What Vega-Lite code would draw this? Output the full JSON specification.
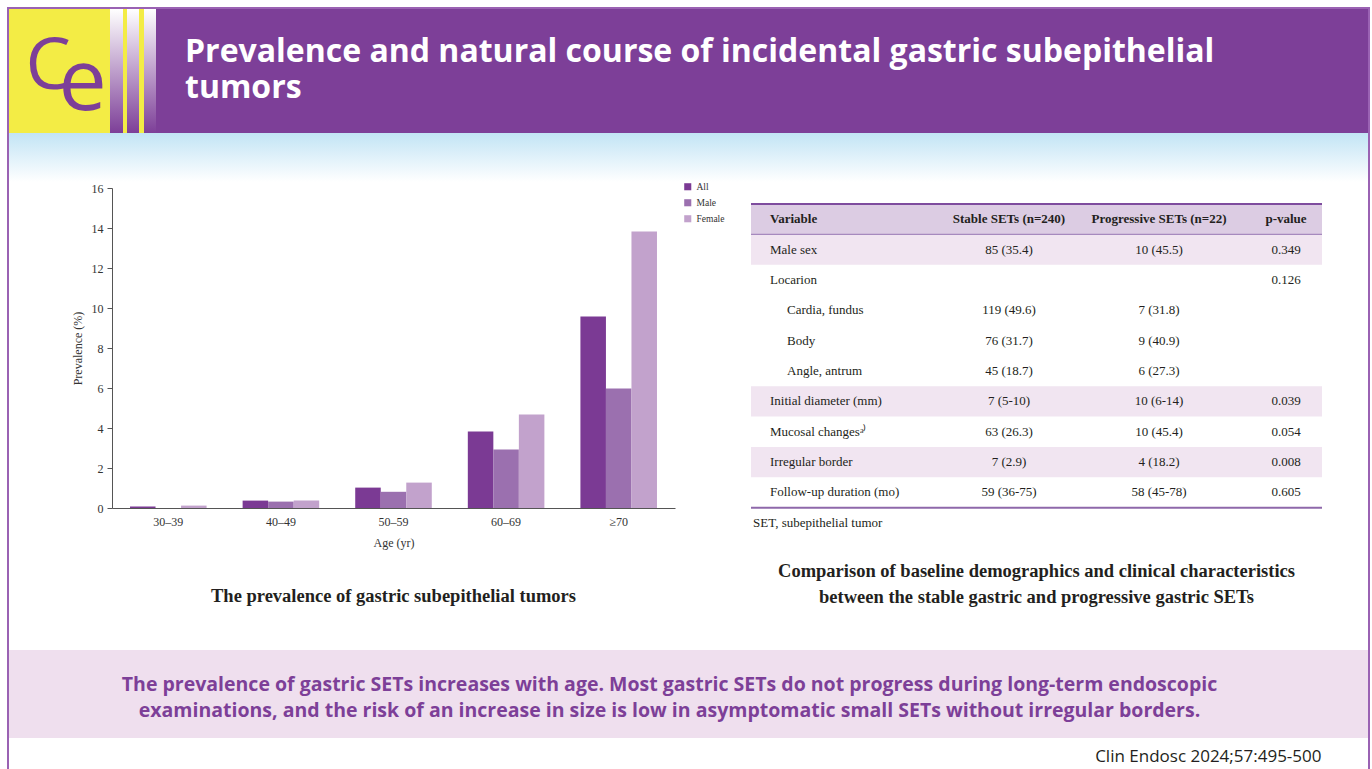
{
  "$schema": "https://vega.github.io/schema/vega-lite/v6.json",
  "background": "white",
  "padding": {"left": 7, "top": 7, "right": 2, "bottom": 0},
  "config": {
    "view": {"stroke": null},
    "concat": {"spacing": 0},
    "axis": {"labelFont": "Liberation Serif", "titleFont": "Liberation Serif", "labelFontSize": 12, "titleFontSize": 12, "titleFontWeight": "normal", "labelColor": "#333", "titleColor": "#333", "domainColor": "#555", "tickColor": "#555", "grid": false}
  },
  "datasets": {
    "bars": [
      {"age": "30–39", "group": "All", "prevalence": 0.07},
      {"age": "30–39", "group": "Male", "prevalence": 0.0},
      {"age": "30–39", "group": "Female", "prevalence": 0.12},
      {"age": "40–49", "group": "All", "prevalence": 0.37},
      {"age": "40–49", "group": "Male", "prevalence": 0.32},
      {"age": "40–49", "group": "Female", "prevalence": 0.37},
      {"age": "50–59", "group": "All", "prevalence": 1.02},
      {"age": "50–59", "group": "Male", "prevalence": 0.81},
      {"age": "50–59", "group": "Female", "prevalence": 1.27},
      {"age": "60–69", "group": "All", "prevalence": 3.82},
      {"age": "60–69", "group": "Male", "prevalence": 2.92},
      {"age": "60–69", "group": "Female", "prevalence": 4.68},
      {"age": "≥70", "group": "All", "prevalence": 9.57},
      {"age": "≥70", "group": "Male", "prevalence": 5.98},
      {"age": "≥70", "group": "Female", "prevalence": 13.83}
    ],
    "table": [
      {"row": 0, "level": "main", "variable": "Variable", "stable": "Stable SETs (n=240)", "progressive": "Progressive SETs (n=22)", "p": "p-value"},
      {"row": 1, "level": "main", "variable": "Male sex", "stable": "85 (35.4)", "progressive": "10 (45.5)", "p": "0.349"},
      {"row": 2, "level": "main", "variable": "Locarion", "stable": "", "progressive": "", "p": "0.126"},
      {"row": 3, "level": "sub", "variable": "Cardia, fundus", "stable": "119 (49.6)", "progressive": "7 (31.8)", "p": ""},
      {"row": 4, "level": "sub", "variable": "Body", "stable": "76 (31.7)", "progressive": "9 (40.9)", "p": ""},
      {"row": 5, "level": "sub", "variable": "Angle, antrum", "stable": "45 (18.7)", "progressive": "6 (27.3)", "p": ""},
      {"row": 6, "level": "main", "variable": "Initial diameter (mm)", "stable": "7 (5-10)", "progressive": "10 (6-14)", "p": "0.039"},
      {"row": 7, "level": "main", "variable": "Mucosal changesᵃ⁾", "stable": "63 (26.3)", "progressive": "10 (45.4)", "p": "0.054"},
      {"row": 8, "level": "main", "variable": "Irregular border", "stable": "7 (2.9)", "progressive": "4 (18.2)", "p": "0.008"},
      {"row": 9, "level": "main", "variable": "Follow-up duration (mo)", "stable": "59 (36-75)", "progressive": "58 (45-78)", "p": "0.605"},
      {"row": 10, "level": "note", "variable": "SET, subepithelial tumor", "stable": "", "progressive": "", "p": ""}
    ]
  },
  "spacing": 0,
  "resolve": {"scale": {"color": "independent"}, "legend": {"color": "independent"}},
  "hconcat": [
    {"width": 2, "height": 762, "view": {"fill": "#9A62B3"}, "data": {"values": []}, "mark": "point"},
    {
      "spacing": 0,
      "resolve": {"scale": {"color": "independent"}, "legend": {"color": "independent"}},
      "vconcat": [
        {"width": 1359, "height": 2, "view": {"fill": "#9A62B3"}, "data": {"values": []}, "mark": "point"},
        {
          "spacing": 0,
          "bounds": "flush",
          "hconcat": [
            {
              "width": 101, "height": 124, "view": {"fill": "#F3EC45"},
              "data": {"values": [{}]},
              "layer": [
                {"mark": {"type": "text", "text": "C", "font": "Open Sans", "fontSize": 72, "color": "#7D3F98", "align": "left", "baseline": "alphabetic", "dx": -34, "dy": 18}, "encoding": {}},
                {"mark": {"type": "text", "text": "e", "font": "Open Sans", "fontSize": 86, "color": "#7D3F98", "align": "left", "baseline": "alphabetic", "dx": -1, "dy": 39}, "encoding": {}}
              ]
            },
            {"width": 13, "height": 124, "view": {"fill": {"gradient": "linear", "x1": 0, "y1": 0, "x2": 0, "y2": 1, "stops": [{"offset": 0, "color": "#FFFFFF"}, {"offset": 1, "color": "#7D3F98"}]}}, "data": {"values": []}, "mark": "point"},
            {"width": 4, "height": 124, "view": {"fill": "#F3EC45"}, "data": {"values": []}, "mark": "point"},
            {"width": 12, "height": 124, "view": {"fill": {"gradient": "linear", "x1": 0, "y1": 0, "x2": 0, "y2": 1, "stops": [{"offset": 0, "color": "#FFFFFF"}, {"offset": 1, "color": "#7D3F98"}]}}, "data": {"values": []}, "mark": "point"},
            {"width": 5, "height": 124, "view": {"fill": "#F3EC45"}, "data": {"values": []}, "mark": "point"},
            {"width": 12, "height": 124, "view": {"fill": {"gradient": "linear", "x1": 0, "y1": 0, "x2": 0, "y2": 1, "stops": [{"offset": 0, "color": "#FFFFFF"}, {"offset": 1, "color": "#7D3F98"}]}}, "data": {"values": []}, "mark": "point"},
            {
              "width": 1212, "height": 124, "view": {"fill": "#7D3F98"},
              "data": {"values": [{}]},
              "mark": {"type": "text", "text": ["Prevalence and natural course of incidental gastric subepithelial", "tumors"], "font": "Open Sans", "fontWeight": "bold", "fontSize": 32, "lineHeight": 36, "color": "#FFFFFF", "align": "left", "baseline": "middle", "dx": -577, "dy": -19},
              "encoding": {}
            }
          ]
        },
        {"width": 1359, "height": 49, "view": {"fill": {"gradient": "linear", "x1": 0, "y1": 0, "x2": 0, "y2": 1, "stops": [{"offset": 0, "color": "#C2E4F5"}, {"offset": 1, "color": "#FFFFFF"}]}}, "data": {"values": []}, "mark": "point"},
        {
          "spacing": 0,
          "resolve": {"scale": {"color": "independent"}, "legend": {"color": "independent"}},
          "hconcat": [
            {"width": 62, "height": 1, "data": {"values": []}, "mark": "point"},
            {
              "width": 563, "height": 320,
              "data": {"name": "bars"},
              "title": {"text": "The prevalence of gastric subepithelial tumors", "orient": "bottom", "anchor": "middle", "frame": "group", "offset": 39, "font": "Liberation Serif", "fontSize": 18.5, "fontWeight": "bold", "color": "#231F20"},
              "mark": {"type": "bar"},
              "encoding": {
                "x": {"field": "age", "type": "nominal", "sort": ["30–39", "40–49", "50–59", "60–69", "≥70"], "scale": {"paddingInner": 0.32, "paddingOuter": 0.16}, "axis": {"title": "Age (yr)", "labelAngle": 0, "ticks": false, "tickSize": 0, "labelPadding": 8, "titlePadding": 10}},
                "xOffset": {"field": "group", "type": "nominal", "sort": ["All", "Male", "Female"], "scale": {"paddingInner": 0, "paddingOuter": 0}},
                "y": {"field": "prevalence", "type": "quantitative", "scale": {"domain": [0, 16]}, "axis": {"title": "Prevalence (%)", "values": [0, 2, 4, 6, 8, 10, 12, 14, 16], "tickSize": 5, "labelPadding": 4, "titlePadding": 7}},
                "color": {"field": "group", "type": "nominal", "scale": {"domain": ["All", "Male", "Female"], "range": ["#7B3A94", "#9B70AF", "#C2A2CC"]}, "legend": {"orient": "none", "legendX": 571, "legendY": -6, "title": null, "symbolType": "square", "symbolSize": 50, "symbolStrokeWidth": 0, "symbolOpacity": 1, "labelFont": "Liberation Serif", "labelFontSize": 9.5, "labelColor": "#333", "rowPadding": 5, "padding": 0, "labelOffset": 4}}
              }
            },
            {"width": 25, "height": 1, "data": {"values": []}, "mark": "point"},
            {
              "spacing": 0,
              "vconcat": [
                {"width": 1, "height": 15, "data": {"values": []}, "mark": "point"},
                {
                  "spacing": 0,
                  "bounds": "flush",
                  "title": {"text": ["Comparison of baseline demographics and clinical characteristics", "between the stable gastric and progressive gastric SETs"], "orient": "bottom", "anchor": "middle", "offset": 24, "font": "Liberation Serif", "fontSize": 18.5, "fontWeight": "bold", "lineHeight": 26, "color": "#231F20"},
                  "hconcat": [
                    {
                      "width": 199, "height": 334,
                      "data": {"name": "table"},
                      "layer": [
                        {"transform": [{"filter": "datum.row == 0"}], "mark": {"type": "rect", "color": "#DCCCE3"}, "encoding": {"y": {"field": "row", "type": "ordinal", "scale": {"domain": [0,1,2,3,4,5,6,7,8,9,10], "paddingInner": 0, "paddingOuter": 0}, "axis": null}}},
                        {"transform": [{"filter": {"field": "variable", "oneOf": ["Male sex", "Initial diameter (mm)", "Irregular border"]}}], "mark": {"type": "rect", "color": "#F1E5F1"}, "encoding": {"y": {"field": "row", "type": "ordinal", "axis": null}}},
                        {"transform": [{"filter": "datum.row == 0"}], "mark": {"type": "rule", "color": "#7E4C9E", "strokeWidth": 2}, "encoding": {"y": {"field": "row", "type": "ordinal", "bandPosition": 0, "axis": null}}},
                        {"transform": [{"filter": "datum.row == 0"}], "mark": {"type": "rule", "color": "#A689BE", "strokeWidth": 1.2}, "encoding": {"y": {"field": "row", "type": "ordinal", "bandPosition": 1, "axis": null}}},
                        {"transform": [{"filter": "datum.row == 9"}], "mark": {"type": "rule", "color": "#8E68AA", "strokeWidth": 2}, "encoding": {"y": {"field": "row", "type": "ordinal", "bandPosition": 1, "axis": null}}},
                        {"transform": [{"filter": "datum.row == 0"}], "mark": {"type": "text", "align": "left", "font": "Liberation Serif", "fontSize": 13, "fontWeight": "bold", "color": "#231F20"}, "encoding": {"x": {"field": "level", "type": "nominal", "scale": {"type": "point", "domain": ["note", "main", "sub"], "range": [2, 36], "padding": 0}, "axis": null}, "y": {"field": "row", "type": "ordinal", "axis": null}, "text": {"field": "variable"}}},
                        {"transform": [{"filter": "datum.row > 0"}], "mark": {"type": "text", "align": "left", "font": "Liberation Serif", "fontSize": 13, "color": "#231F20"}, "encoding": {"x": {"field": "level", "type": "nominal", "axis": null}, "y": {"field": "row", "type": "ordinal", "axis": null}, "text": {"field": "variable"}}}
                      ]
                    },
                    {
                      "width": 118, "height": 334,
                      "data": {"name": "table"},
                      "layer": [
                        {"transform": [{"filter": "datum.row == 0"}], "mark": {"type": "rect", "color": "#DCCCE3"}, "encoding": {"y": {"field": "row", "type": "ordinal", "scale": {"domain": [0,1,2,3,4,5,6,7,8,9,10], "paddingInner": 0, "paddingOuter": 0}, "axis": null}}},
                        {"transform": [{"filter": {"field": "variable", "oneOf": ["Male sex", "Initial diameter (mm)", "Irregular border"]}}], "mark": {"type": "rect", "color": "#F1E5F1"}, "encoding": {"y": {"field": "row", "type": "ordinal", "axis": null}}},
                        {"transform": [{"filter": "datum.row == 0"}], "mark": {"type": "rule", "color": "#7E4C9E", "strokeWidth": 2}, "encoding": {"y": {"field": "row", "type": "ordinal", "bandPosition": 0, "axis": null}}},
                        {"transform": [{"filter": "datum.row == 0"}], "mark": {"type": "rule", "color": "#A689BE", "strokeWidth": 1.2}, "encoding": {"y": {"field": "row", "type": "ordinal", "bandPosition": 1, "axis": null}}},
                        {"transform": [{"filter": "datum.row == 9"}], "mark": {"type": "rule", "color": "#8E68AA", "strokeWidth": 2}, "encoding": {"y": {"field": "row", "type": "ordinal", "bandPosition": 1, "axis": null}}},
                        {"transform": [{"filter": "datum.row == 0"}], "mark": {"type": "text", "font": "Liberation Serif", "fontSize": 13, "fontWeight": "bold", "color": "#231F20"}, "encoding": {"y": {"field": "row", "type": "ordinal", "axis": null}, "text": {"field": "stable"}}},
                        {"transform": [{"filter": "datum.row > 0"}], "mark": {"type": "text", "font": "Liberation Serif", "fontSize": 13, "color": "#231F20"}, "encoding": {"y": {"field": "row", "type": "ordinal", "axis": null}, "text": {"field": "stable"}}}
                      ]
                    },
                    {
                      "width": 182, "height": 334,
                      "data": {"name": "table"},
                      "layer": [
                        {"transform": [{"filter": "datum.row == 0"}], "mark": {"type": "rect", "color": "#DCCCE3"}, "encoding": {"y": {"field": "row", "type": "ordinal", "scale": {"domain": [0,1,2,3,4,5,6,7,8,9,10], "paddingInner": 0, "paddingOuter": 0}, "axis": null}}},
                        {"transform": [{"filter": {"field": "variable", "oneOf": ["Male sex", "Initial diameter (mm)", "Irregular border"]}}], "mark": {"type": "rect", "color": "#F1E5F1"}, "encoding": {"y": {"field": "row", "type": "ordinal", "axis": null}}},
                        {"transform": [{"filter": "datum.row == 0"}], "mark": {"type": "rule", "color": "#7E4C9E", "strokeWidth": 2}, "encoding": {"y": {"field": "row", "type": "ordinal", "bandPosition": 0, "axis": null}}},
                        {"transform": [{"filter": "datum.row == 0"}], "mark": {"type": "rule", "color": "#A689BE", "strokeWidth": 1.2}, "encoding": {"y": {"field": "row", "type": "ordinal", "bandPosition": 1, "axis": null}}},
                        {"transform": [{"filter": "datum.row == 9"}], "mark": {"type": "rule", "color": "#8E68AA", "strokeWidth": 2}, "encoding": {"y": {"field": "row", "type": "ordinal", "bandPosition": 1, "axis": null}}},
                        {"transform": [{"filter": "datum.row == 0"}], "mark": {"type": "text", "font": "Liberation Serif", "fontSize": 13, "fontWeight": "bold", "color": "#231F20"}, "encoding": {"y": {"field": "row", "type": "ordinal", "axis": null}, "text": {"field": "progressive"}}},
                        {"transform": [{"filter": "datum.row > 0"}], "mark": {"type": "text", "font": "Liberation Serif", "fontSize": 13, "color": "#231F20"}, "encoding": {"y": {"field": "row", "type": "ordinal", "axis": null}, "text": {"field": "progressive"}}}
                      ]
                    },
                    {
                      "width": 72, "height": 334,
                      "data": {"name": "table"},
                      "layer": [
                        {"transform": [{"filter": "datum.row == 0"}], "mark": {"type": "rect", "color": "#DCCCE3"}, "encoding": {"y": {"field": "row", "type": "ordinal", "scale": {"domain": [0,1,2,3,4,5,6,7,8,9,10], "paddingInner": 0, "paddingOuter": 0}, "axis": null}}},
                        {"transform": [{"filter": {"field": "variable", "oneOf": ["Male sex", "Initial diameter (mm)", "Irregular border"]}}], "mark": {"type": "rect", "color": "#F1E5F1"}, "encoding": {"y": {"field": "row", "type": "ordinal", "axis": null}}},
                        {"transform": [{"filter": "datum.row == 0"}], "mark": {"type": "rule", "color": "#7E4C9E", "strokeWidth": 2}, "encoding": {"y": {"field": "row", "type": "ordinal", "bandPosition": 0, "axis": null}}},
                        {"transform": [{"filter": "datum.row == 0"}], "mark": {"type": "rule", "color": "#A689BE", "strokeWidth": 1.2}, "encoding": {"y": {"field": "row", "type": "ordinal", "bandPosition": 1, "axis": null}}},
                        {"transform": [{"filter": "datum.row == 9"}], "mark": {"type": "rule", "color": "#8E68AA", "strokeWidth": 2}, "encoding": {"y": {"field": "row", "type": "ordinal", "bandPosition": 1, "axis": null}}},
                        {"transform": [{"filter": "datum.row == 0"}], "mark": {"type": "text", "font": "Liberation Serif", "fontSize": 13, "fontWeight": "bold", "color": "#231F20"}, "encoding": {"y": {"field": "row", "type": "ordinal", "axis": null}, "text": {"field": "p"}}},
                        {"transform": [{"filter": "datum.row > 0"}], "mark": {"type": "text", "font": "Liberation Serif", "fontSize": 13, "color": "#231F20"}, "encoding": {"y": {"field": "row", "type": "ordinal", "axis": null}, "text": {"field": "p"}}}
                      ]
                    }
                  ]
                }
              ]
            }
          ]
        },
        {"width": 1359, "height": 43, "data": {"values": []}, "mark": "point"},
        {
          "width": 1359, "height": 88, "view": {"fill": "#EFDFEE"},
          "data": {"values": [{}]},
          "mark": {"type": "text", "text": ["The prevalence of gastric SETs increases with age. Most gastric SETs do not progress during long-term endoscopic", "examinations, and the risk of an increase in size is low in asymptomatic small SETs without irregular borders."], "font": "Open Sans", "fontWeight": "bold", "fontSize": 19.5, "lineHeight": 26, "color": "#7D3F98", "align": "center", "baseline": "middle", "dx": -19, "dy": -9},
          "encoding": {}
        },
        {
          "width": 1359, "height": 31,
          "data": {"values": [{}]},
          "mark": {"type": "text", "text": "Clin Endosc 2024;57:495-500", "font": "Open Sans", "fontSize": 17, "color": "#231F20", "align": "right", "baseline": "alphabetic", "dx": 633, "dy": 8},
          "encoding": {}
        }
      ]
    },
    {"width": 2, "height": 762, "view": {"fill": "#9A62B3"}, "data": {"values": []}, "mark": "point"}
  ]
}
